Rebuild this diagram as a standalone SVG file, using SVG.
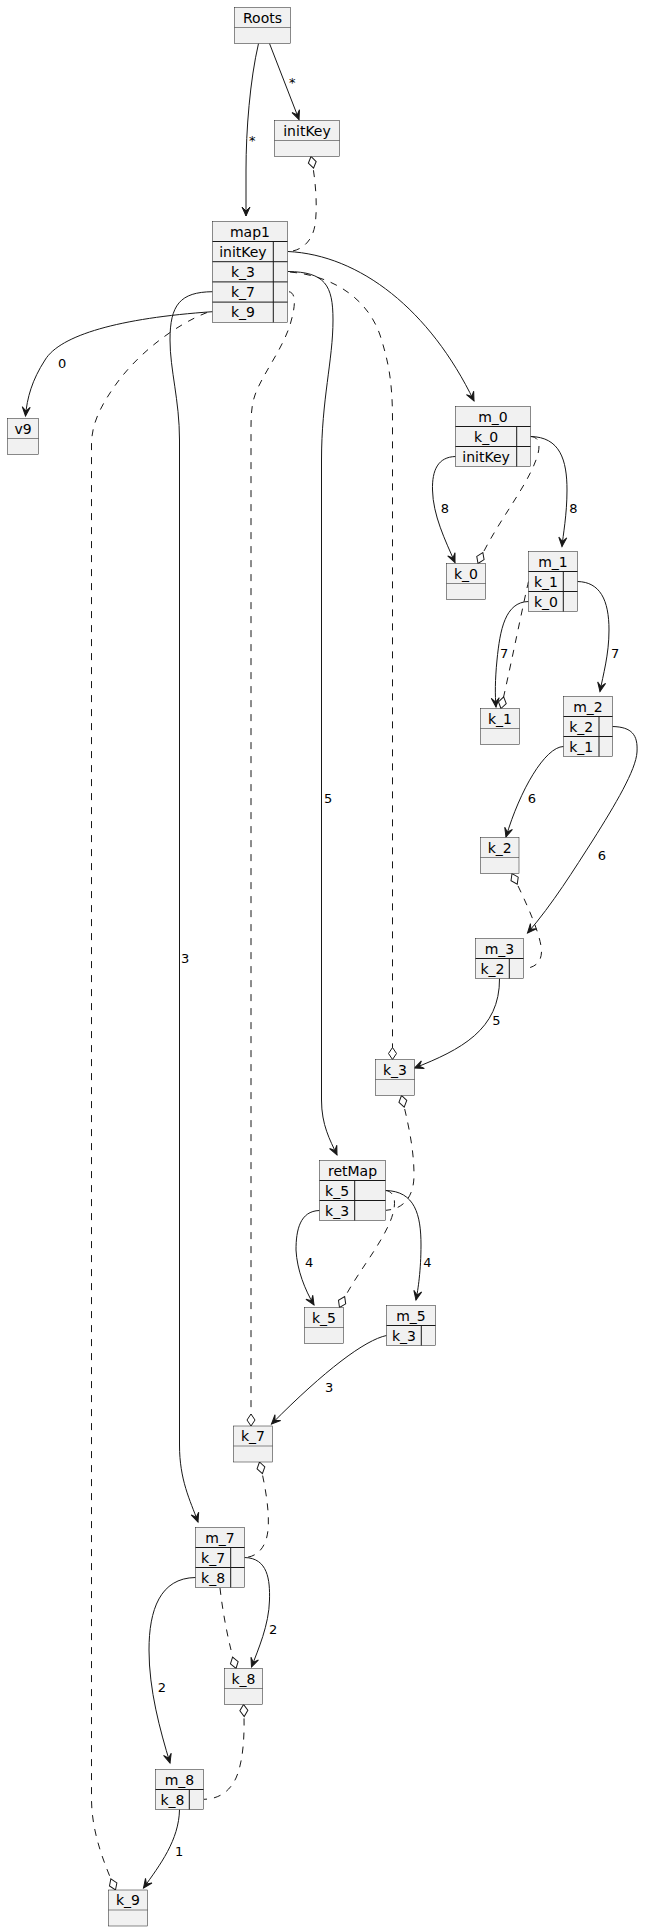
<svg xmlns="http://www.w3.org/2000/svg" width="666" height="1931" viewBox="0 0 666 1931">
<style>
.box{fill:#F1F1F1;stroke:#181818;stroke-width:0.5}
.div{stroke:#181818;stroke-width:0.5}
.tl{stroke:#181818;stroke-width:1}
.n{font-family:"DejaVu Sans",sans-serif;font-size:14px;fill:#000;text-anchor:middle}
.l{font-family:"DejaVu Sans",sans-serif;font-size:13px;fill:#000}
.e{fill:none;stroke:#181818;stroke-width:1}
.s{marker-end:url(#arr)}
.d{stroke-dasharray:7,7}
.de{marker-end:url(#dia)}
.ds{marker-start:url(#dia)}
</style>
<defs>
<marker id="arr" markerUnits="userSpaceOnUse" orient="auto" refX="0" refY="0" markerWidth="20" markerHeight="20" style="overflow:visible">
<path d="M0,0 L-9,-4 L-5,0 L-9,4 Z" fill="#181818" stroke="#181818" stroke-width="1" stroke-linejoin="miter"/>
</marker>
<marker id="dia" markerUnits="userSpaceOnUse" orient="auto-start-reverse" refX="0" refY="0" markerWidth="20" markerHeight="20" style="overflow:visible">
<path d="M0,0 L-6,-4 L-12,0 L-6,4 Z" fill="#FFFFFF" stroke="#181818" stroke-width="1"/>
</marker>
</defs>

<g id="connectors">
<path class="e s" d="M258.5,43.5 C250,80 246,130 246,170 L246,216"/>
<path class="e s" d="M269.5,43.5 L299,119.5"/>
<path class="e d ds" d="M311,156.5 C315,175 318,205 315,225 C312,243 300,251 288.5,251.5"/>
<path class="e s" d="M288,251.5 C360,255 430,310 474,401"/>
<path class="e s" d="M288,271.5 C325,272 333,285 333,320 C333,360 321.5,400 321.5,460 L321.5,1100 C321.5,1125 330,1140 337,1155"/>
<path class="e d de" d="M290,272 C335,276 368,300 380,335 C388,360 392.5,380 392.5,420 L392.5,1059.5"/>
<path class="e s" d="M212.5,291.7 C180,292 170,305 170,340 C170,370 179.5,400 179.5,440 L179.5,1445 C179.5,1480 190,1500 198,1522"/>
<path class="e d de" d="M289,291.7 C296,293 296,305 290,325 C282,350 262,375 255,395 C251.5,405 251,415 251,430 L251,1426"/>
<path class="e s" d="M212.5,311.7 C120,318 60,335 45,360 C32,380 27,398 25.5,416"/>
<path class="e d de" d="M207,312.5 C175,325 135,355 112,390 C97,412 91.5,428 91.5,445 L91.5,1800 C92,1835 105,1865 115.5,1890"/>
<path class="e s" d="M455.5,456.5 C438,457 432,470 432.5,490 C433,515 445,540 455,562.5"/>
<path class="e d de" d="M531,436.5 C540,437 541,447 536,460 C525,490 495,525 478,563.5"/>
<path class="e s" d="M530.5,436.5 C560,437 567,460 567,490 C567,515 563,535 562,546.5"/>
<path class="e s" d="M528.5,601.5 C505,602 500,630 497,660 C495,680 495,695 496,707"/>
<path class="e d de" d="M528.5,581.5 C523,605 512,660 501,708.5"/>
<path class="e s" d="M577.5,581.5 C600,582 609,600 609,630 C609,655 603,675 600,691.5"/>
<path class="e s" d="M563.5,746.5 C545,747 520,790 506,837"/>
<path class="e s" d="M612.5,726.5 C632,727 638,735 637,752 C636,770 615,805 593,840 C575,868 552,905 527.5,933"/>
<path class="e d ds" d="M512,873.5 C520,890 540,930 541.5,950 C542,962 535,968 524,968.5"/>
<path class="e s" d="M499.5,978.5 C500,1030 460,1050 414.5,1068"/>
<path class="e d ds" d="M401.5,1095.5 C406,1115 414,1145 414,1175 C414,1195 405,1209 386,1210.3"/>
<path class="e d de" d="M386,1190.5 C396,1192 397,1205 390,1222 C378,1250 355,1275 339.5,1307.5"/>
<path class="e s" d="M319.5,1210.5 C300,1211 296,1230 296,1250 C297,1270 305,1290 314,1305"/>
<path class="e s" d="M385.5,1190.5 C415,1191 421,1215 421,1245 C421,1270 418,1290 416,1300"/>
<path class="e s" d="M386.5,1335.5 C365,1340 325,1370 271.5,1424"/>
<path class="e d ds" d="M259.5,1462 C264,1480 270,1510 268,1530 C266,1550 255,1557 245,1557.5"/>
<path class="e s" d="M244.5,1557.5 C268,1558 270,1580 269.5,1600 C269,1625 258,1650 251.5,1667"/>
<path class="e d de" d="M220,1588 C223,1615 229,1645 236,1668.5"/>
<path class="e s" d="M195.5,1577.5 C160,1578 149,1610 149,1650 C149,1690 160,1730 170,1763"/>
<path class="e d ds" d="M243.5,1704.5 C245,1730 244,1760 236,1778 C228,1795 215,1799 204,1799.3"/>
<path class="e s" d="M179.5,1809.5 C179,1840 160,1865 143.5,1888"/>
<text class="l" x="249" y="145">*</text>
<text class="l" x="289" y="86.5">*</text>
<text class="l" x="58" y="368.3">0</text>
<text class="l" x="440.7" y="513.3">8</text>
<text class="l" x="569.3" y="513.3">8</text>
<text class="l" x="500" y="658.3">7</text>
<text class="l" x="611" y="658.3">7</text>
<text class="l" x="527.7" y="803.3">6</text>
<text class="l" x="597.7" y="860">6</text>
<text class="l" x="324" y="803.3">5</text>
<text class="l" x="492.3" y="1025">5</text>
<text class="l" x="181" y="963.3">3</text>
<text class="l" x="305" y="1267.3">4</text>
<text class="l" x="423.3" y="1267.3">4</text>
<text class="l" x="325" y="1392.3">3</text>
<text class="l" x="269" y="1634.3">2</text>
<text class="l" x="157.7" y="1691.7">2</text>
<text class="l" x="175" y="1856">1</text>
</g>

<g id="Roots"><rect class="box" x="234.5" y="7.5" width="56" height="36"/><line class="div" x1="234.5" y1="27.5" x2="290.5" y2="27.5"/><text class="n" x="262.5" y="22.8">Roots</text></g>
<g id="initKey"><rect class="box" x="274.5" y="120.5" width="65" height="36"/><line class="div" x1="274.5" y1="140.5" x2="339.5" y2="140.5"/><text class="n" x="307" y="135.8">initKey</text></g>

<g id="map1"><rect class="box" x="212.5" y="221.5" width="75" height="100.8"/>
<line class="tl" x1="212.5" y1="241.5" x2="287.5" y2="241.5"/><line class="tl" x1="212.5" y1="261.7" x2="287.5" y2="261.7"/><line class="tl" x1="212.5" y1="281.9" x2="287.5" y2="281.9"/><line class="tl" x1="212.5" y1="302.1" x2="287.5" y2="302.1"/>
<line class="tl" x1="273.3" y1="241.5" x2="273.3" y2="322.3"/>
<text class="n" x="250" y="236.8">map1</text><text class="n" x="242.9" y="256.8">initKey</text><text class="n" x="242.9" y="277">k_3</text><text class="n" x="242.9" y="297.2">k_7</text><text class="n" x="242.9" y="317.4">k_9</text></g>

<g id="v9"><rect class="box" x="7.5" y="418.5" width="31" height="36"/><line class="div" x1="7.5" y1="438.5" x2="38.5" y2="438.5"/><text class="n" x="23" y="433.8">v9</text></g>

<g id="m_0"><rect class="box" x="455.5" y="406.5" width="75" height="60"/>
<line class="tl" x1="455.5" y1="426.5" x2="530.5" y2="426.5"/><line class="tl" x1="455.5" y1="446.5" x2="530.5" y2="446.5"/><line class="tl" x1="516.7" y1="426.5" x2="516.7" y2="466.5"/>
<text class="n" x="493" y="421.8">m_0</text><text class="n" x="486.1" y="441.8">k_0</text><text class="n" x="486.1" y="461.8">initKey</text></g>

<g id="k_0"><rect class="box" x="446.5" y="563.5" width="39" height="36"/><line class="div" x1="446.5" y1="583.5" x2="485.5" y2="583.5"/><text class="n" x="466" y="578.8">k_0</text></g>

<g id="m_1"><rect class="box" x="528.5" y="551.5" width="49" height="60"/>
<line class="tl" x1="528.5" y1="571.5" x2="577.5" y2="571.5"/><line class="tl" x1="528.5" y1="591.5" x2="577.5" y2="591.5"/><line class="tl" x1="563.3" y1="571.5" x2="563.3" y2="611.5"/>
<text class="n" x="553" y="566.8">m_1</text><text class="n" x="545.9" y="586.8">k_1</text><text class="n" x="545.9" y="606.8">k_0</text></g>

<g id="k_1"><rect class="box" x="480.5" y="708.5" width="39" height="36"/><line class="div" x1="480.5" y1="728.5" x2="519.5" y2="728.5"/><text class="n" x="500" y="723.8">k_1</text></g>

<g id="m_2"><rect class="box" x="563.5" y="696.5" width="49" height="60"/>
<line class="tl" x1="563.5" y1="716.5" x2="612.5" y2="716.5"/><line class="tl" x1="563.5" y1="736.5" x2="612.5" y2="736.5"/><line class="tl" x1="599" y1="716.5" x2="599" y2="756.5"/>
<text class="n" x="588" y="711.8">m_2</text><text class="n" x="581.25" y="731.8">k_2</text><text class="n" x="581.25" y="751.8">k_1</text></g>

<g id="k_2"><rect class="box" x="480.5" y="837.5" width="38.5" height="36"/><line class="div" x1="480.5" y1="857.5" x2="519" y2="857.5"/><text class="n" x="499.75" y="852.8">k_2</text></g>

<g id="m_3"><rect class="box" x="475.5" y="938.5" width="48" height="40"/>
<line class="tl" x1="475.5" y1="958.5" x2="523.5" y2="958.5"/><line class="tl" x1="509.3" y1="958.5" x2="509.3" y2="978.5"/>
<text class="n" x="499.5" y="953.8">m_3</text><text class="n" x="492.4" y="973.8">k_2</text></g>

<g id="k_3"><rect class="box" x="375.5" y="1059.5" width="39" height="36"/><line class="div" x1="375.5" y1="1079.5" x2="414.5" y2="1079.5"/><text class="n" x="395" y="1074.8">k_3</text></g>

<g id="retMap"><rect class="box" x="319.5" y="1160.5" width="66" height="60"/>
<line class="tl" x1="319.5" y1="1180.5" x2="385.5" y2="1180.5"/><line class="tl" x1="319.5" y1="1200.5" x2="385.5" y2="1200.5"/><line class="tl" x1="354.7" y1="1180.5" x2="354.7" y2="1220.5"/>
<text class="n" x="352.5" y="1175.8">retMap</text><text class="n" x="337.1" y="1195.8">k_5</text><text class="n" x="337.1" y="1215.8">k_3</text></g>

<g id="k_5"><rect class="box" x="304.5" y="1307.5" width="39" height="36"/><line class="div" x1="304.5" y1="1327.5" x2="343.5" y2="1327.5"/><text class="n" x="324" y="1322.8">k_5</text></g>

<g id="m_5"><rect class="box" x="386.5" y="1305.5" width="49" height="40"/>
<line class="tl" x1="386.5" y1="1325.5" x2="435.5" y2="1325.5"/><line class="tl" x1="421.3" y1="1325.5" x2="421.3" y2="1345.5"/>
<text class="n" x="411" y="1320.8">m_5</text><text class="n" x="403.9" y="1340.8">k_3</text></g>

<g id="k_7"><rect class="box" x="233.5" y="1426" width="39" height="36"/><line class="div" x1="233.5" y1="1446" x2="272.5" y2="1446"/><text class="n" x="253" y="1441.3">k_7</text></g>

<g id="m_7"><rect class="box" x="195.5" y="1527.5" width="49" height="60"/>
<line class="tl" x1="195.5" y1="1547.5" x2="244.5" y2="1547.5"/><line class="tl" x1="195.5" y1="1567.5" x2="244.5" y2="1567.5"/><line class="tl" x1="230.7" y1="1547.5" x2="230.7" y2="1587.5"/>
<text class="n" x="220" y="1542.8">m_7</text><text class="n" x="213.1" y="1562.8">k_7</text><text class="n" x="213.1" y="1582.8">k_8</text></g>

<g id="k_8"><rect class="box" x="224.5" y="1668.5" width="38" height="36"/><line class="div" x1="224.5" y1="1688.5" x2="262.5" y2="1688.5"/><text class="n" x="243.5" y="1683.8">k_8</text></g>

<g id="m_8"><rect class="box" x="155.5" y="1769.5" width="48" height="40"/>
<line class="tl" x1="155.5" y1="1789.5" x2="203.5" y2="1789.5"/><line class="tl" x1="189.3" y1="1789.5" x2="189.3" y2="1809.5"/>
<text class="n" x="179.5" y="1784.8">m_8</text><text class="n" x="172.4" y="1804.8">k_8</text></g>

<g id="k_9"><rect class="box" x="108.5" y="1890" width="39" height="36"/><line class="div" x1="108.5" y1="1910" x2="147.5" y2="1910"/><text class="n" x="128" y="1905.3">k_9</text></g>
</svg>
